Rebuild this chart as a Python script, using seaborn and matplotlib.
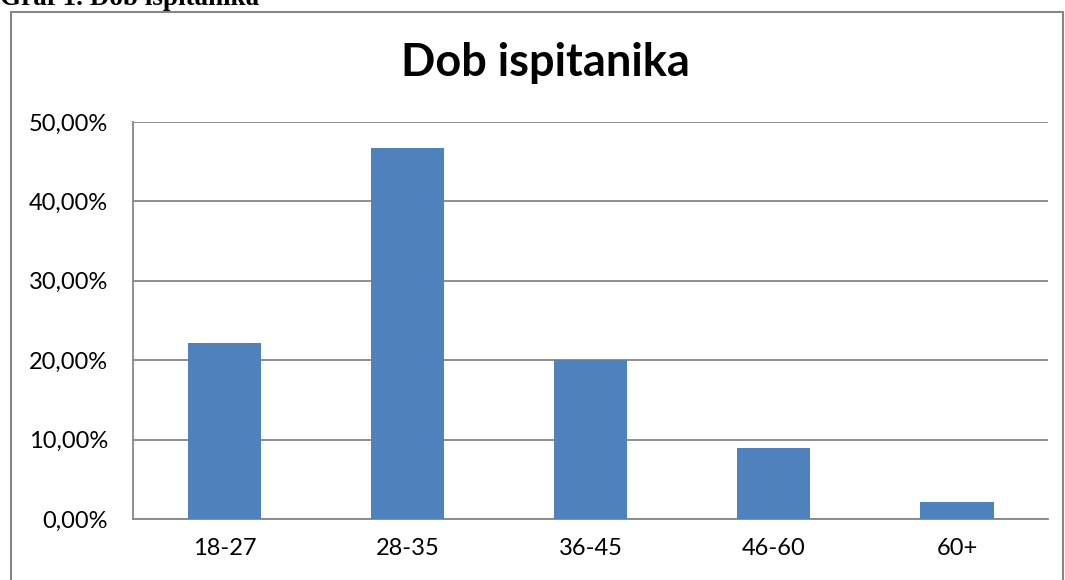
import matplotlib
matplotlib.use("Agg")
import matplotlib.pyplot as plt
import matplotlib.patches as patches
from matplotlib.ticker import FuncFormatter, MultipleLocator
import seaborn as sns
import pandas as pd

# Dob ispitanika - postotak po dobnim skupinama
age_groups = ["18-27", "28-35", "36-45", "46-60", "60+"]
shares = [22.2, 46.7, 20.0, 8.9, 2.2]

df = pd.DataFrame({"dob": age_groups, "udio": shares})

sns.set_style("white")
plt.rcParams['font.family'] = ['Lato', 'DejaVu Sans']
plt.rcParams['text.color'] = 'black'

fig = plt.figure(figsize=(10.65, 5.8), dpi=100)
ax = fig.add_axes([0.1249, 0.1052, 0.8596, 0.6845])

sns.barplot(data=df, x="dob", y="udio", color="#4F81BD", width=0.4,
            saturation=1, linewidth=0, ax=ax, zorder=3)

ax.set_ylim(0, 50)
ax.yaxis.set_major_locator(MultipleLocator(10))
ax.yaxis.set_major_formatter(FuncFormatter(lambda v, p: f"{v:.2f}%".replace('.', ',')))
ax.grid(axis='y', color='#868686', linewidth=1.3, zorder=0)
ax.set_axisbelow(True)
ax.set_xlabel('')
ax.set_ylabel('')
ax.tick_params(axis='both', length=0, labelsize=17, colors='black')
ax.tick_params(axis='y', pad=18)
ax.tick_params(axis='x', pad=14)
for s in ['top', 'right']:
    ax.spines[s].set_visible(False)
for s in ['left', 'bottom']:
    ax.spines[s].set_color('#868686')
    ax.spines[s].set_linewidth(1.3)

fig.text(0.512, 0.891, 'Dob ispitanika', ha='center', va='center',
         fontsize=32.5, fontweight='bold', color='black')

# okvir grafikona
frame = patches.Rectangle((11 / 1065, -0.05), (1063 - 11) / 1065, 1.05 - 12 / 580,
                          transform=fig.transFigure, fill=False,
                          edgecolor='#868686', linewidth=1.5)
fig.patches.append(frame)

fig.text(0.0, 1 - 5 / 580, 'Graf 1. Dob ispitanika', ha='left', va='baseline',
         fontsize=19.5, fontweight='bold', color='black', family=['Liberation Serif'])

fig.savefig('out.png', dpi=100)
